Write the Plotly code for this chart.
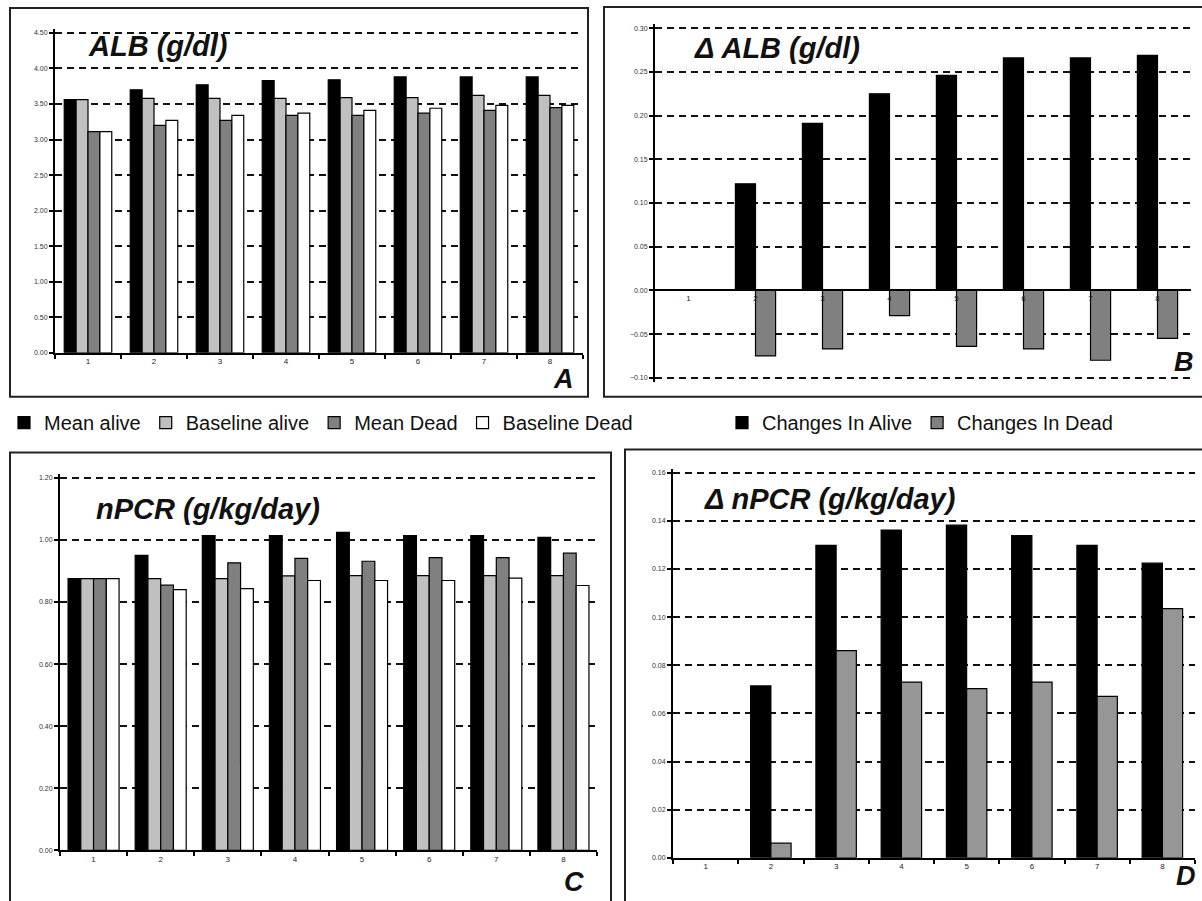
import plotly.graph_objects as go

# ---------------- data ----------------
categories = ['1', '2', '3', '4', '5', '6', '7', '8']

alb_mean_alive = [3.56, 3.70, 3.77, 3.83, 3.84, 3.88, 3.88, 3.88]
alb_base_alive = [3.56, 3.58, 3.58, 3.58, 3.59, 3.59, 3.62, 3.62]
alb_mean_dead = [3.11, 3.20, 3.27, 3.34, 3.34, 3.37, 3.41, 3.45]
alb_base_dead = [3.11, 3.27, 3.34, 3.37, 3.41, 3.44, 3.48, 3.48]

dalb_alive = [None, 0.122, 0.191, 0.225, 0.246, 0.266, 0.266, 0.269]
dalb_dead = [None, -0.075, -0.067, -0.029, -0.064, -0.067, -0.080, -0.055]

npcr_mean_alive = [0.875, 0.950, 1.014, 1.014, 1.024, 1.014, 1.014, 1.008]
npcr_base_alive = [0.875, 0.875, 0.875, 0.884, 0.885, 0.885, 0.885, 0.885]
npcr_mean_dead = [0.875, 0.854, 0.926, 0.940, 0.931, 0.943, 0.943, 0.957]
npcr_base_dead = [0.875, 0.840, 0.843, 0.869, 0.869, 0.869, 0.877, 0.853]

dnpcr_alive = [None, 0.0714, 0.1298, 0.1362, 0.1382, 0.1339, 0.1298, 0.1224]
dnpcr_dead = [None, 0.0061, 0.0861, 0.0730, 0.0703, 0.0730, 0.0671, 0.1035]

four_names = ['Mean alive', 'Baseline alive', 'Mean Dead', 'Baseline Dead']
two_names = ['Changes In Alive', 'Changes In Dead']

# ---------------- layout helpers ----------------
W, H = 1202, 901


def px(x):
    return x / W


def py(y):
    return 1 - y / H


FONT = 'Arial'
four_colors = ['#000000', '#c0c0c0', '#808080', '#ffffff']

fig = go.Figure()

# Panel A
w4 = 0.18
offs4 = [-2 * w4, -w4, 0, w4]
for name, vals, col, off in zip(four_names,
                                [alb_mean_alive, alb_base_alive, alb_mean_dead, alb_base_dead],
                                four_colors, offs4):
    fig.add_trace(go.Bar(x=categories, y=vals, name=name, width=w4, offset=off,
                         marker=dict(color=col, line=dict(color='#000', width=1.2)),
                         xaxis='x', yaxis='y', legend='legend', legendgroup=name,
                         showlegend=True))

# Panel C
w4c = 0.19
offs4c = [-2 * w4c, -w4c, 0, w4c]
for name, vals, col, off in zip(four_names,
                                [npcr_mean_alive, npcr_base_alive, npcr_mean_dead, npcr_base_dead],
                                four_colors, offs4c):
    fig.add_trace(go.Bar(x=categories, y=vals, name=name, width=w4c, offset=off,
                         marker=dict(color=col, line=dict(color='#000', width=1.2)),
                         xaxis='x3', yaxis='y3', legend='legend', legendgroup=name,
                         showlegend=False))

# Panel B
w2 = 0.30
for name, vals, col, off in zip(two_names, [dalb_alive, dalb_dead],
                                ['#000000', '#808080'], [-w2, 0]):
    fig.add_trace(go.Bar(x=categories, y=vals, name=name, width=w2, offset=off,
                         marker=dict(color=col, line=dict(color='#000', width=1.2)),
                         xaxis='x2', yaxis='y2', legend='legend2', legendgroup=name,
                         showlegend=True))

# Panel D
w2d = 0.31
for name, vals, col, off in zip(two_names, [dnpcr_alive, dnpcr_dead],
                                ['#000000', '#969696'], [-w2d, 0]):
    fig.add_trace(go.Bar(x=categories, y=vals, name=name, width=w2d, offset=off,
                         marker=dict(color=col, line=dict(color='#000', width=1.2)),
                         xaxis='x4', yaxis='y4', legend='legend2', legendgroup=name,
                         showlegend=False))

tickfont = dict(family=FONT, size=7, color='#333')
catfont = dict(family=FONT, size=8, color='#222')


def y_setup(vmin, vmax, pix_bottom, pix_top, pad_top=4, pad_bottom=0):
    """Domain and range so that vmin sits at pix_bottom and vmax at pix_top,
    with a little padding so the edge gridlines are drawn."""
    per_px = (vmax - vmin) / (pix_bottom - pix_top)
    rng = [vmin - pad_bottom * per_px, vmax + pad_top * per_px]
    dom = [py(pix_bottom + pad_bottom), py(pix_top - pad_top)]
    return dom, rng


def yax(domain, rng, dtick, anchor):
    return dict(domain=domain, range=rng, dtick=dtick, tick0=0, tickformat='.2f',
                showgrid=True, gridcolor='#111', gridwidth=2, griddash='7px,5px',
                zeroline=False, showline=True, linecolor='#000', linewidth=2,
                ticks='outside', ticklen=4, tickwidth=1.5, tickcolor='#000',
                tickfont=tickfont, anchor=anchor, fixedrange=True)


def xax(domain, anchor, ticks=True):
    return dict(domain=domain, type='category', range=[-0.5, 7.5],
                showgrid=False, zeroline=False, showline=True, linecolor='#000',
                linewidth=1.5, ticks='outside' if ticks else '', tickson='boundaries',
                ticklen=4, tickwidth=1.5, tickcolor='#000', tickfont=catfont,
                anchor=anchor, fixedrange=True)


# domains (from pixel positions)
A_x = [px(55), px(583)]
B_x = [px(655), px(1191)]
C_x = [px(60), px(597)]
D_x = [px(673), px(1195)]

A_y, A_r = y_setup(0, 4.5, 354, 33)
B_y, B_r = y_setup(-0.10, 0.30, 379, 28.3, pad_top=4, pad_bottom=4)
C_y, C_r = y_setup(0, 1.2, 853.3, 479.3)
D_y, D_r = y_setup(0, 0.16, 860.7, 474.3)

B_zero_pos = B_y[0] + (0 - B_r[0]) / (B_r[1] - B_r[0]) * (B_y[1] - B_y[0])

xB = xax(B_x, 'free', ticks=False)
xB['position'] = B_zero_pos

legend_font = dict(family=FONT, size=20, color='#111')

fig.update_layout(
    width=W, height=H, autosize=False,
    margin=dict(l=0, r=0, t=0, b=0),
    paper_bgcolor='white', plot_bgcolor='rgba(0,0,0,0)',
    barmode='overlay',
    font=dict(family=FONT, color='#000'),
    xaxis=xax(A_x, 'y'),
    yaxis=yax(A_y, A_r, 0.5, 'x'),
    xaxis2=xB,
    yaxis2=yax(B_y, B_r, 0.05, 'x2'),
    xaxis3=xax(C_x, 'y3'),
    yaxis3=yax(C_y, C_r, 0.2, 'x3'),
    xaxis4=xax(D_x, 'y4'),
    yaxis4=yax(D_y, D_r, 0.02, 'x4'),
    legend=dict(orientation='h', x=px(4), y=py(424), xanchor='left', yanchor='middle',
                font=legend_font, bgcolor='rgba(0,0,0,0)',
                itemclick=False, itemdoubleclick=False),
    legend2=dict(orientation='h', x=px(722), y=py(424), xanchor='left', yanchor='middle',
                 font=legend_font, bgcolor='rgba(0,0,0,0)',
                 itemclick=False, itemdoubleclick=False),
    showlegend=True,
)

# zero line of panel B
fig.update_layout(yaxis2=dict(zeroline=True, zerolinecolor='#000', zerolinewidth=1.5))

# titles and panel letters
title_font = dict(family=FONT, size=29, color='#111')
annots = [
    ('<b><i>ALB (g/dl)</i></b>', 86, 46),
    ('<b><i>Δ ALB (g/dl)</i></b>', 692, 48),
    ('<b><i>nPCR (g/kg/day)</i></b>', 94, 511),
    ('<b><i>Δ nPCR (g/kg/day)</i></b>', 702, 501),
]
for txt, x, y in annots:
    fig.add_annotation(text=txt, x=px(x), y=py(y), xref='paper', yref='paper',
                       xanchor='left', yanchor='middle', showarrow=False, font=title_font)

letters = [('A', 551, 380), ('B', 1172, 363), ('C', 562, 885), ('D', 1174, 879)]
for txt, x, y in letters:
    fig.add_annotation(text='<b><i>' + txt + '</i></b>', x=px(x), y=py(y), xref='paper',
                       yref='paper', xanchor='left', yanchor='middle', showarrow=False,
                       font=dict(family=FONT, size=27, color='#111'))

# panel frames
boxes = [(10, 8, 588, 398), (604, 7, 1210, 398), (10, 454, 611, 910), (625, 451, 1210, 910)]
for x0, y0, x1, y1 in boxes:
    fig.add_shape(type='rect', xref='paper', yref='paper', x0=px(x0), x1=px(x1),
                  y0=py(y0), y1=py(y1), line=dict(color='#222', width=2),
                  fillcolor='rgba(0,0,0,0)', layer='below')

fig.write_html('out.html',
               config={'displayModeBar': False},
               post_script="document.body.style.margin='0px';"
                           "document.body.style.overflow='hidden';")
